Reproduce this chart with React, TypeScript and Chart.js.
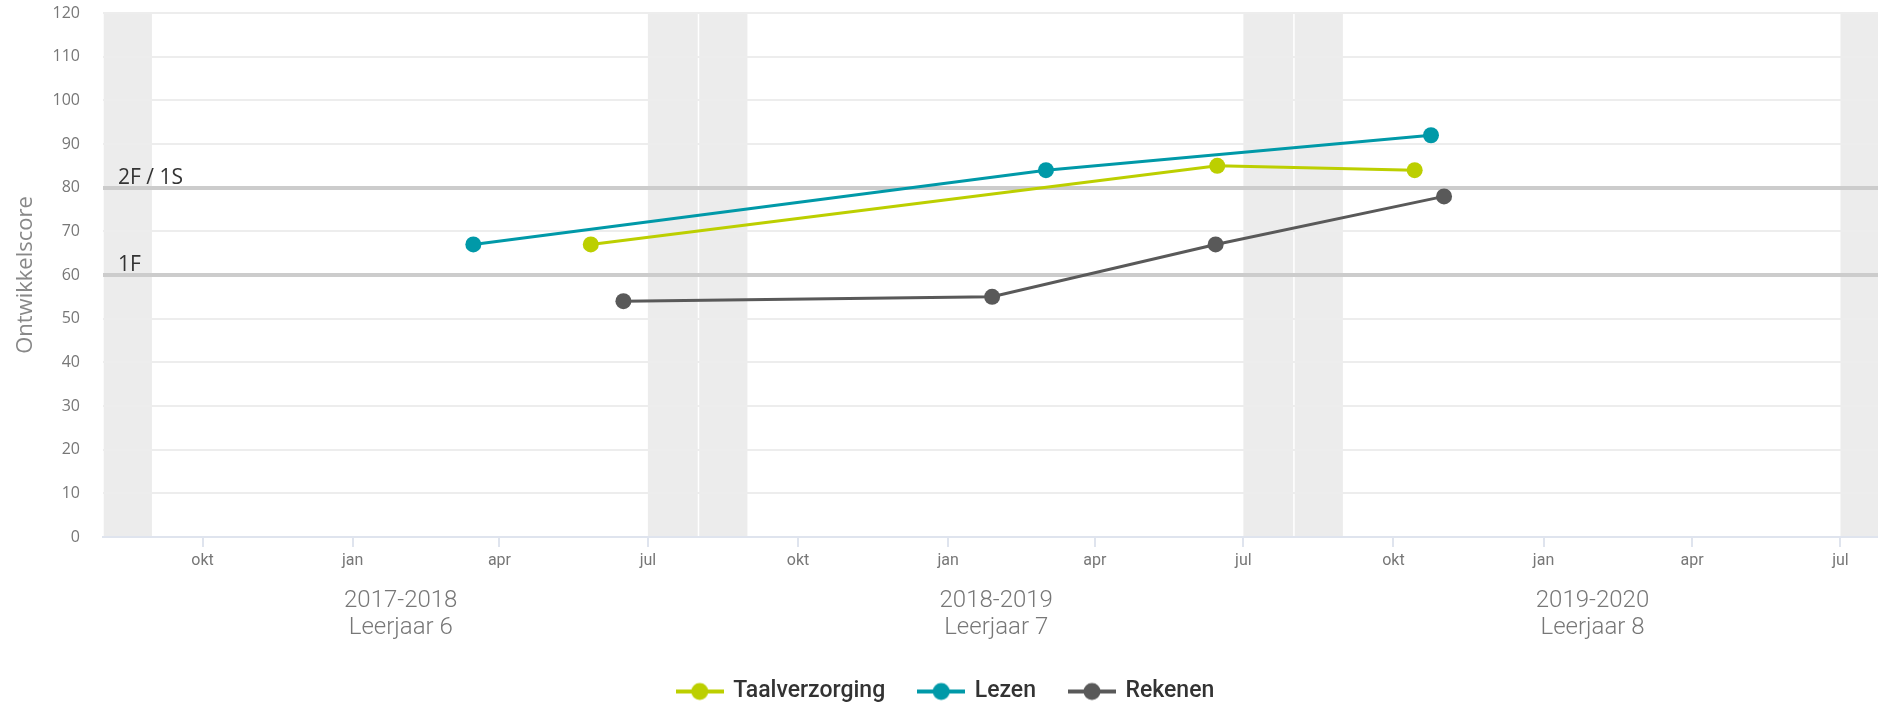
import React, { useEffect, useRef } from 'react';
import { Chart, registerables } from 'chart.js';

Chart.register(...registerables);

// ---------- data ----------
const seriesNames = ['Taalverzorging', 'Lezen', 'Rekenen'];
const seriesColors = ['#bccf00', '#0099a8', '#595959'];

const taalDates = ['2018-05-27', '2019-06-15', '2019-10-14'];
const taalScores = [67, 85, 84];
const lezenDates = ['2018-03-16', '2019-03-02', '2019-10-24'];
const lezenScores = [67, 84, 92];
const rekenenDates = ['2018-06-16', '2019-01-28', '2019-06-14', '2019-11-01'];
const rekenenScores = [54, 55, 67, 78];

const xMinDate = '2017-08-01';
const xMaxDate = '2020-07-24';

const monthTickDates = [
  '2017-10-01', '2018-01-01', '2018-04-01', '2018-07-01',
  '2018-10-01', '2019-01-01', '2019-04-01', '2019-07-01',
  '2019-10-01', '2020-01-01', '2020-04-01', '2020-07-01',
];
const monthTickLabels = ['okt', 'jan', 'apr', 'jul', 'okt', 'jan', 'apr', 'jul', 'okt', 'jan', 'apr', 'jul'];

const schoolYearStarts = ['2017-08-01', '2018-08-01', '2019-08-01'];
const schoolYearEnds = ['2018-08-01', '2019-08-01', '2020-08-01'];
const schoolYearLabels = ['2017-2018', '2018-2019', '2019-2020'];
const gradeLabels = ['Leerjaar 6', 'Leerjaar 7', 'Leerjaar 8'];

const holidayStarts = ['2017-07-01', '2018-07-01', '2019-07-01', '2020-07-01'];
const holidaySplits = ['2017-08-01', '2018-08-01', '2019-08-01', '2020-08-01'];
const holidayEnds = ['2017-08-31', '2018-08-31', '2019-08-31', '2020-08-31'];

const yMin = 0;
const yMax = 120;
const yStep = 10;
const refValues = [80, 60];
const refLabels = ['2F / 1S', '1F'];

// ---------- helpers ----------
const day = (s: string) => {
  const [y, m, d] = s.split('-').map(Number);
  return Date.UTC(y, m - 1, d) / 86400000;
};

const toPoints = (dates: string[], scores: number[]) =>
  dates.map((d, i) => ({ x: day(d), y: scores[i] }));

function makeMarker(color: string) {
  const c = document.createElement('canvas');
  c.width = 48;
  c.height = 20;
  const g = c.getContext('2d')!;
  g.strokeStyle = color;
  g.lineWidth = 4;
  g.beginPath();
  g.moveTo(0, 10);
  g.lineTo(48, 10);
  g.stroke();
  g.fillStyle = color;
  g.beginPath();
  g.arc(24, 10, 8.5, 0, Math.PI * 2);
  g.fill();
  return c;
}

const bandPlugin = {
  id: 'holidayBands',
  beforeDraw(chart: any) {
    const { ctx, chartArea: a, scales } = chart;
    const x = scales.x;
    ctx.save();
    ctx.beginPath();
    ctx.rect(a.left, a.top, a.right - a.left, a.bottom - a.top);
    ctx.clip();
    ctx.fillStyle = '#ececec';
    holidayStarts.forEach((s, i) => {
      const x0 = x.getPixelForValue(day(s));
      const xm = x.getPixelForValue(day(holidaySplits[i]));
      const x1 = x.getPixelForValue(day(holidayEnds[i]));
      ctx.fillRect(x0, a.top, xm - x0 - 0.75, a.bottom - a.top);
      ctx.fillRect(xm + 0.75, a.top, x1 - xm - 0.75, a.bottom - a.top);
    });
    ctx.restore();
  },
};

const refLabelPlugin = {
  id: 'refLabels',
  afterDraw(chart: any) {
    const { ctx, chartArea: a, scales } = chart;
    const y = scales.y;
    ctx.save();
    ctx.font = '21px "Open Sans"';
    ctx.fillStyle = '#333333';
    ctx.textAlign = 'left';
    ctx.textBaseline = 'alphabetic';
    refValues.forEach((v, i) => {
      ctx.fillText(refLabels[i], a.left + 15, y.getPixelForValue(v) - 4);
    });
    ctx.restore();
  },
};

// nudges the centred legend row slightly to the right, as in the reference
const legendShiftPlugin = {
  id: 'legendShift',
  afterLayout(chart: any) {
    const lg = chart.legend;
    if (lg) {
      lg.left += 7;
      lg.right += 7;
    }
  },
};

export default function App() {
  const ref = useRef<HTMLCanvasElement>(null);

  useEffect(() => {
    if (!ref.current) return;
    const markers = seriesColors.map(makeMarker);
    const seriesData = [
      toPoints(taalDates, taalScores),
      toPoints(lezenDates, lezenScores),
      toPoints(rekenenDates, rekenenScores),
    ];
    const yearCenters = schoolYearStarts.map((s, i) => (day(s) + day(schoolYearEnds[i])) / 2);

    const chart = new Chart(ref.current, {
      type: 'line',
      data: {
        datasets: seriesNames.map((name, i) => ({
          label: name,
          data: seriesData[i],
          borderColor: seriesColors[i],
          backgroundColor: seriesColors[i],
          pointBackgroundColor: seriesColors[i],
          pointBorderColor: seriesColors[i],
          pointBorderWidth: 0,
          pointRadius: 8,
          borderWidth: 3,
          tension: 0,
          fill: false,
        })),
      },
      options: {
        animation: false,
        responsive: false,
        events: [],
        layout: { autoPadding: false, padding: { top: 13, left: 0, right: 0, bottom: 0 } },
        plugins: {
          tooltip: { enabled: false },
          legend: {
            position: 'bottom',
            align: 'center',
            labels: {
              usePointStyle: true,
              pointStyleWidth: 44,
              padding: 34,
              color: '#333333',
              font: { family: 'Roboto', size: 23, weight: '500' },
              generateLabels: (c: any) => {
                const items = (Chart.defaults.plugins.legend.labels as any).generateLabels(c);
                return items.map((it: any, i: number) => ({ ...it, pointStyle: markers[i] }));
              },
            },
          },
        },
        scales: {
          x: {
            type: 'linear',
            position: 'bottom',
            min: day(xMinDate),
            max: day(xMaxDate),
            afterBuildTicks: (scale: any) => {
              scale.ticks = monthTickDates.map((d) => ({ value: day(d) }));
            },
            afterFit: (scale: any) => {
              scale.height = 32;
              scale.paddingLeft = 0;
              scale.paddingRight = 0;
            },
            ticks: {
              autoSkip: false,
              maxRotation: 0,
              minRotation: 0,
              padding: 4,
              color: '#777777',
              font: { family: 'Roboto', size: 16 },
              callback: (_v: any, i: number) => monthTickLabels[i],
            },
            grid: {
              drawOnChartArea: false,
              drawTicks: true,
              tickLength: 10,
              color: '#dfe4ee',
              lineWidth: 2,
            },
            border: { display: true, color: '#dfe4ee', width: 2 },
          },
          x2: {
            type: 'linear',
            position: 'bottom',
            min: day(xMinDate),
            max: day(xMaxDate),
            afterBuildTicks: (scale: any) => {
              scale.ticks = yearCenters.map((v) => ({ value: v }));
            },
            afterFit: (scale: any) => {
              scale.height = 77;
              scale.paddingLeft = 0;
              scale.paddingRight = 0;
            },
            ticks: {
              autoSkip: false,
              maxRotation: 0,
              minRotation: 0,
              padding: 18,
              color: '#777777',
              font: { family: 'Roboto', size: 24, weight: '300', lineHeight: 1.125 },
              callback: (_v: any, i: number) => [schoolYearLabels[i], gradeLabels[i]],
            },
            grid: { display: false, drawTicks: false },
            border: { display: false },
          },
          y: {
            type: 'linear',
            min: yMin,
            max: yMax,
            afterFit: (scale: any) => {
              scale.width = 103;
            },
            ticks: {
              stepSize: yStep,
              padding: 3,
              color: '#777777',
              font: { family: 'Open Sans', size: 16 },
            },
            title: {
              display: true,
              text: 'Ontwikkelscore',
              color: '#888888',
              font: { family: 'Open Sans', size: 22 },
              padding: { top: 13, bottom: 0 },
            },
            grid: {
              drawTicks: true,
              tickLength: 20,
              tickColor: 'rgba(0,0,0,0)',
              color: (c: any) => {
                const v = c.tick && c.tick.value;
                if (refValues.includes(v)) return '#cccccc';
                if (v === 0) return '#dfe4ee';
                return '#ededed';
              },
              lineWidth: (c: any) => {
                const v = c.tick && c.tick.value;
                if (refValues.includes(v)) return 4;
                return 2;
              },
            },
            border: { display: false },
          },
        },
      } as any,
      plugins: [bandPlugin, refLabelPlugin, legendShiftPlugin],
    });
    return () => chart.destroy();
  }, []);

  return (
    <div
      style={{
        position: 'absolute',
        left: 0,
        top: 0,
        width: 1878,
        height: 708,
        overflow: 'hidden',
        background: '#ffffff',
      }}
    >
      <canvas ref={ref} width={1878} height={713} style={{ display: 'block', width: 1878, height: 713 }} />
    </div>
  );
}
